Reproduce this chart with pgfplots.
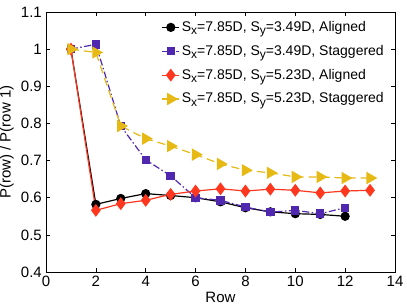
\documentclass[border=0pt]{standalone}
\usepackage{fontspec}
\setmainfont{Liberation Sans}
\usepackage{pgfplots}
\pgfplotsset{compat=1.18}
\definecolor{cpurple}{RGB}{80,40,175}
\definecolor{cred}{RGB}{255,55,30}
\definecolor{cyellow}{RGB}{230,185,20}
\newcommand{\sub}[1]{\raisebox{-0.45ex}{\fontsize{12bp}{13bp}\selectfont #1}}
\begin{document}
\fontsize{15bp}{17bp}\selectfont
\begin{tikzpicture}
\begin{axis}[
  scale only axis, width=349bp, height=260bp,
  xmin=0, xmax=14, ymin=0.4, ymax=1.1,
  xtick={0,2,4,6,8,10,12,14},
  ytick={0.4,0.5,0.6,0.7,0.8,0.9,1.0,1.1},
  yticklabels={0.4,0.5,0.6,0.7,0.8,0.9,1,1.1},
  xticklabels={0,2,4,6,8,10,12,14},
  tick align=inside, major tick length=4bp,
  tick style={black, line width=0.6pt},
  axis line style={line width=1pt},
  ticklabel style={font=\fontsize{15bp}{17bp}\selectfont},
  xticklabel style={yshift=1bp},
  yticklabel style={xshift=1bp},
  xlabel={Row}, ylabel={P(row) / P(row 1)},
  label style={font=\fontsize{15bp}{17bp}\selectfont},
  xlabel style={yshift=5bp},
  ylabel style={yshift=-3bp},
  legend style={at={(1,1)}, anchor=north east, xshift=-8bp, yshift=-6bp,
    draw=none, fill=white,
    font=\fontsize{14bp}{15bp}\selectfont, row sep=7.5bp, inner sep=1bp,
    /tikz/every even column/.append style={column sep=1bp}},
  legend cell align=left,
]
\addplot[black, line width=1.2pt, mark=*, mark size=4bp] coordinates {
(1,1.0) (2,0.582) (3,0.598) (4,0.611) (5,0.606) (6,0.600) (7,0.589) (8,0.573) (9,0.562) (10,0.557) (11,0.555) (12,0.550)};
\addlegendentry{S\sub{x}=7.85D, S\sub{y}=3.49D, Aligned}
\addplot[cpurple, line width=1.2pt, dash pattern=on 7bp off 2.5bp on 1.5bp off 2.5bp, mark=square*, mark size=3.6bp, mark options={solid}] coordinates {
(1,1.0) (2,1.013) (3,0.793) (4,0.702) (5,0.659) (6,0.600) (7,0.593) (8,0.575) (9,0.561) (10,0.566) (11,0.557) (12,0.573)};
\addlegendentry{S\sub{x}=7.85D, S\sub{y}=3.49D, Staggered}
\addplot[cred, line width=1.2pt, mark=diamond*, mark size=5.5bp, mark options={solid}] coordinates {
(1,1.0) (2,0.566) (3,0.584) (4,0.593) (5,0.609) (6,0.618) (7,0.624) (8,0.618) (9,0.623) (10,0.620) (11,0.613) (12,0.618) (13,0.620)};
\addlegendentry{S\sub{x}=7.85D, S\sub{y}=5.23D, Aligned}
\addplot[cyellow, line width=1.2pt, dash pattern=on 8bp off 5bp, mark=triangle*, mark size=6bp, mark options={solid, rotate=-90}] coordinates {
(1,1.0) (2,0.991) (3,0.793) (4,0.759) (5,0.739) (6,0.716) (7,0.691) (8,0.674) (9,0.667) (10,0.656) (11,0.656) (12,0.653) (13,0.653)};
\addlegendentry{S\sub{x}=7.85D, S\sub{y}=5.23D, Staggered}
\end{axis}
\pgfresetboundingbox
\path (current axis.south west) ++(-46bp,-36bp) rectangle ([shift={(12bp,12bp)}]current axis.north east);
\end{tikzpicture}
\end{document}
